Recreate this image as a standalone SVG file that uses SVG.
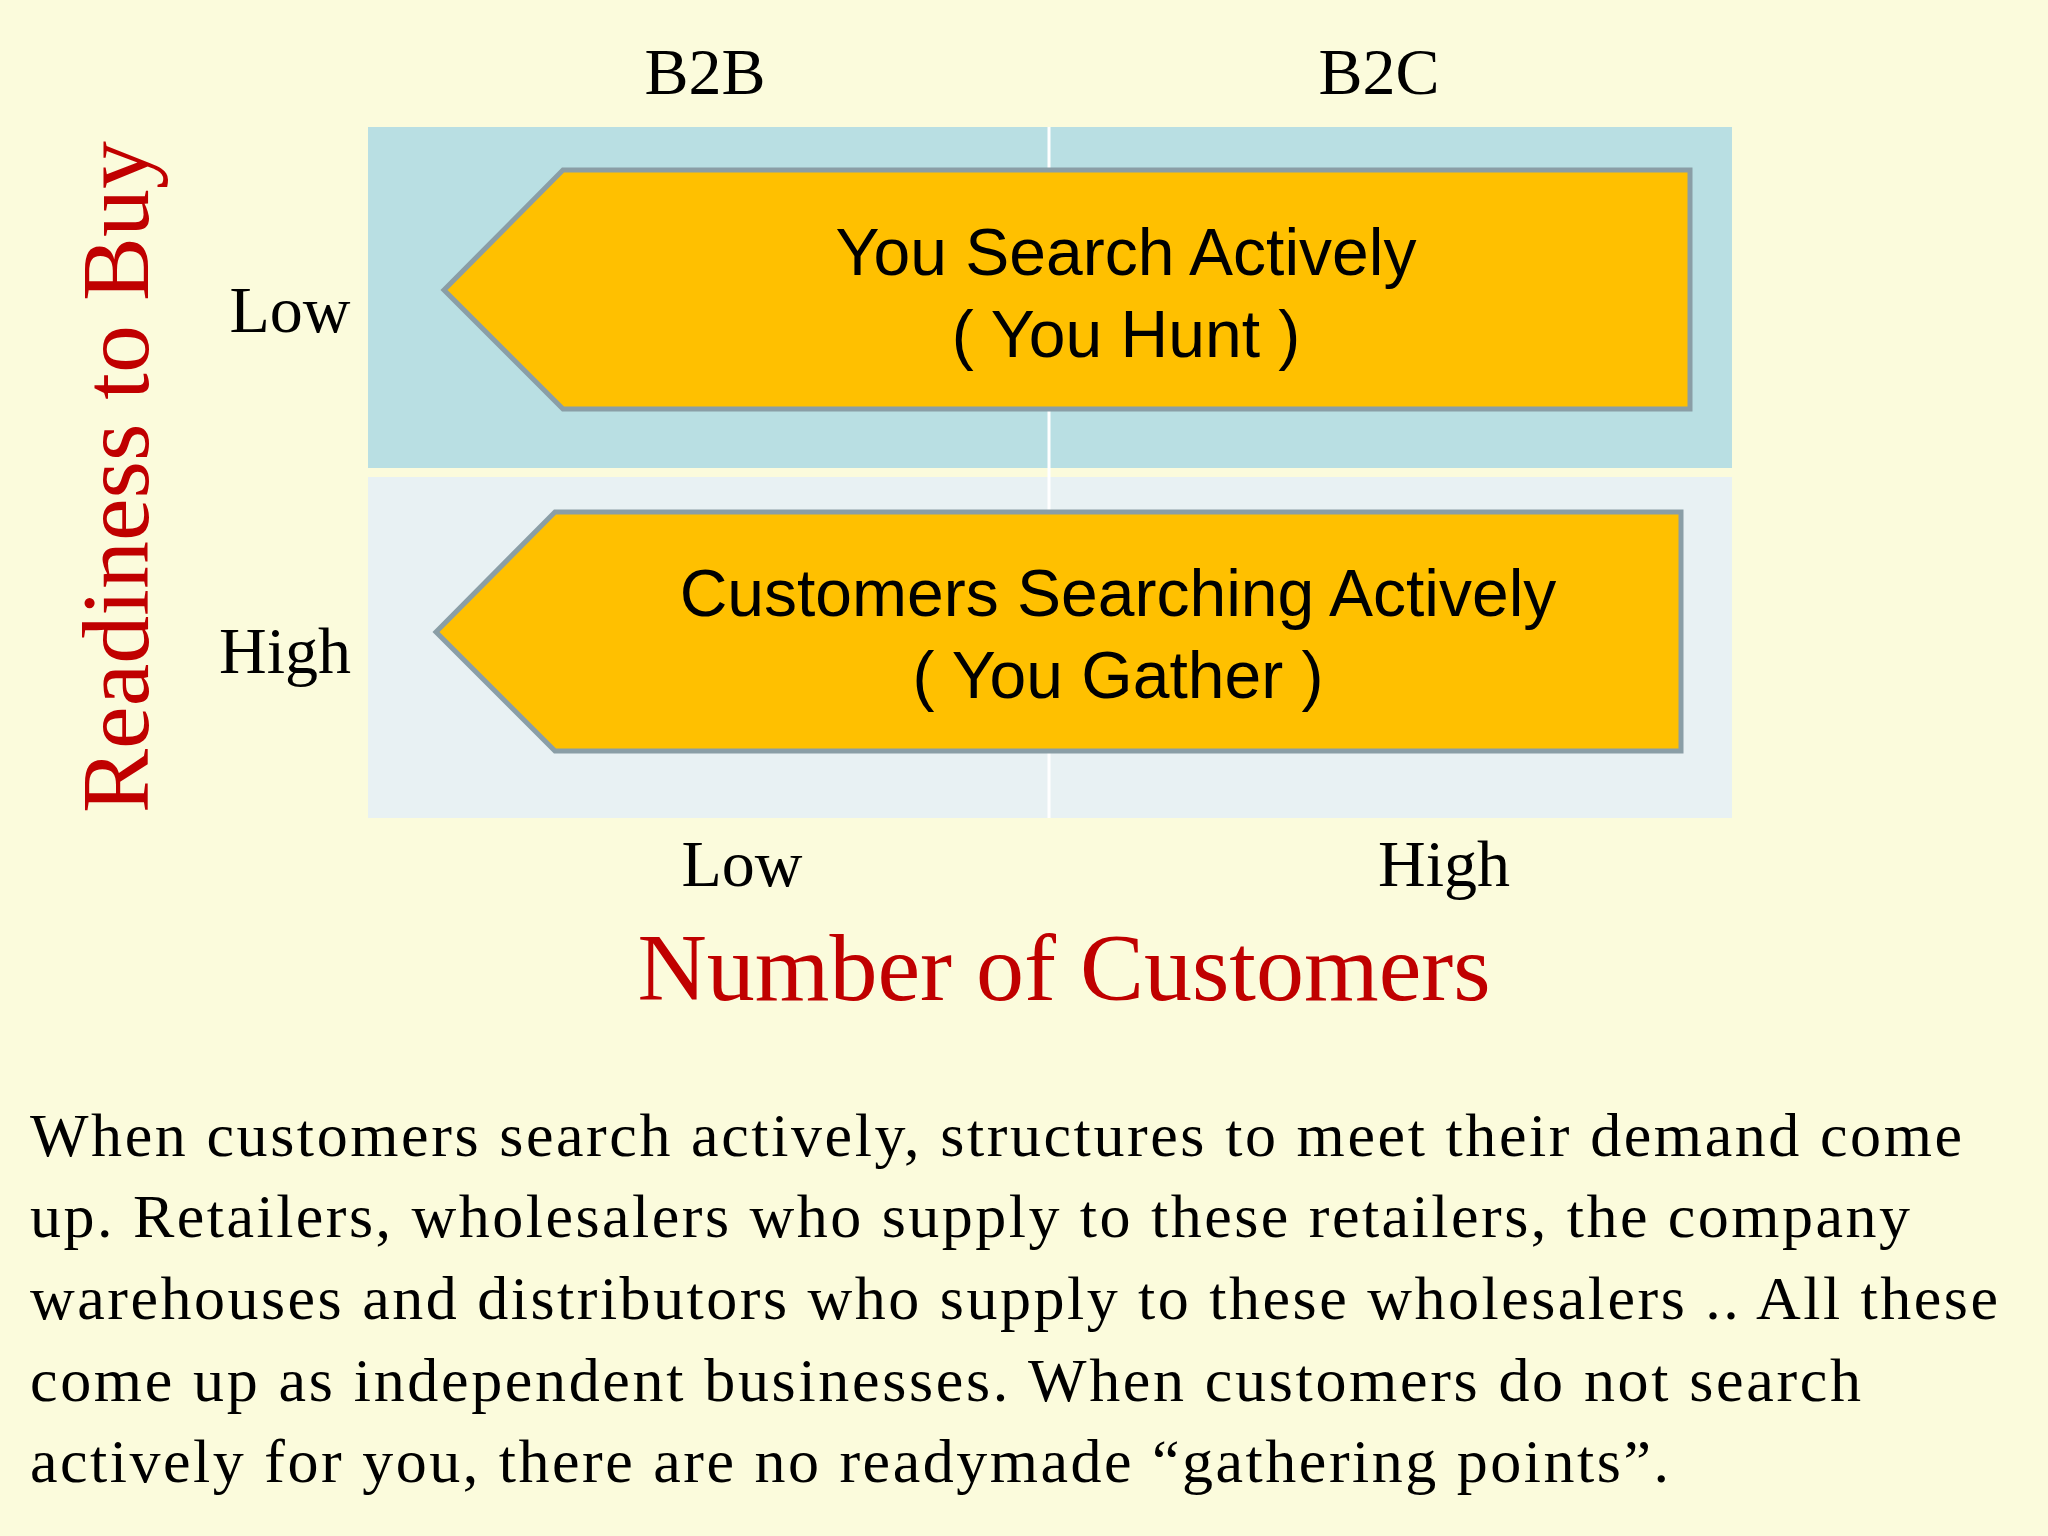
<svg xmlns="http://www.w3.org/2000/svg" width="2048" height="1536" viewBox="0 0 2048 1536">
<style>
.s{font-family:"Liberation Serif",serif;fill:#000}
.h{font-family:"Liberation Sans",sans-serif;font-size:66px;fill:#000;text-anchor:middle}
.r{font-family:"Liberation Serif",serif;fill:#C00000;font-size:96px;text-anchor:middle}
.arrow{fill:#FFC000;stroke:#8A9EA6;stroke-width:5}
.p{font-family:"Liberation Serif",serif;font-size:62px;fill:#000}
</style>
<rect width="2048" height="1536" fill="#FBFBDC"/>
<g id="grid">
<rect x="368" y="127" width="1364" height="341" fill="#B9DFE3"/>
<rect x="368" y="477" width="1364" height="341" fill="#E8F1F3"/>
<line x1="1049" y1="127" x2="1049" y2="818" stroke="#FFFFFF" stroke-width="3"/>
</g>
<g id="hunt">
<polygon class="arrow" points="444,290 563,170 1690,170 1690,409 563,409"/>
<text class="h" x="1126" y="275">You  Search  Actively</text>
<text class="h" x="1126" y="357">( You Hunt )</text>
</g>
<g id="gather">
<polygon class="arrow" points="436,632 555,512 1681,512 1681,751 555,751"/>
<text class="h" x="1118" y="616">Customers  Searching  Actively</text>
<text class="h" x="1118" y="698">( You Gather )</text>
</g>
<g id="labels" class="s" font-size="66" text-anchor="middle">
<text x="705" y="94">B2B</text>
<text x="1379" y="94">B2C</text>
<text x="290" y="332">Low</text>
<text x="285" y="673">High</text>
<text x="742" y="886">Low</text>
<text x="1444" y="886">High</text>
</g>
<text class="r" x="1064" y="1000">Number of Customers</text>
<text class="r" transform="translate(148,477) rotate(-90)" x="0" y="0">Readiness to Buy</text>
<g id="para" class="p">
<text x="30" y="1156" textLength="1932" lengthAdjust="spacing">When customers search actively, structures to meet their demand come</text>
<text x="30" y="1237" textLength="1880" lengthAdjust="spacing">up. Retailers, wholesalers who supply to these retailers, the company</text>
<text x="30" y="1319" textLength="1968" lengthAdjust="spacing">warehouses and distributors who supply to these wholesalers .. All these</text>
<text x="30" y="1401" textLength="1831" lengthAdjust="spacing">come up as independent businesses. When customers do not search</text>
<text x="30" y="1482" textLength="1639" lengthAdjust="spacing">actively for you, there are no readymade “gathering points”.</text>
</g>
<g id="connectors"/>
</svg>
